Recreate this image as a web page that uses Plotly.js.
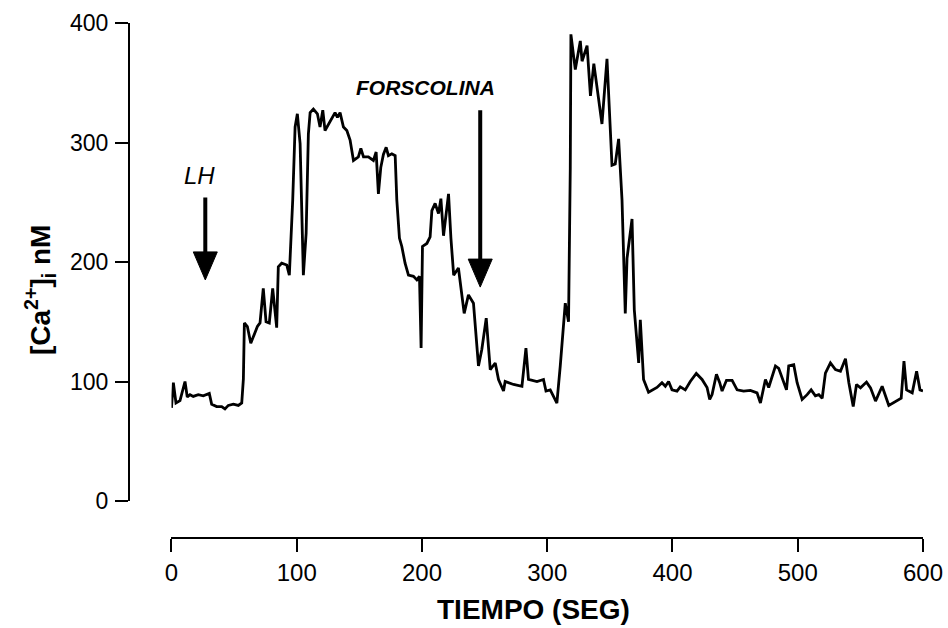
<!DOCTYPE html>
<html>
<head>
<meta charset="utf-8">
<script src="https://cdn.plot.ly/plotly-3.0.1.min.js"></script>
<style>html,body{margin:0;padding:0;background:#fff;}#chart{width:948px;height:628px;}</style>
</head>
<body>
<div id="chart"></div>
<script>
const timeSec = [0,1.5,3.6,6.8,10.8,12.6,14.8,17.4,21.4,25.4,30.2,32.1,36.1,40.1,42.7,45.4,49.4,53.4,56.1,57.4,58.2,60.6,63.3,65.9,68.6,70.7,73.3,75.5,78.1,80.8,82.7,84,85.3,88,92,94.1,96.8,98.7,100.5,102.7,105.3,107.5,109.3,110.7,113.3,116.5,118.6,120.8,122.6,125.3,128.8,130.6,132.5,134.6,137.3,140,142.6,145.3,149.2,151.2,153.3,157.2,161.2,163.4,165.2,167.1,169.2,171.4,173.2,175.9,178.6,179.9,182,183.9,186.5,189.2,193.2,195.9,198,199.3,200.4,203.9,206.5,207.9,210.5,213.2,215.1,217.2,221.2,223.1,225.3,229.1,233.7,237.1,241.1,245.1,247.8,251.3,254.5,258.5,261.1,265.1,266.4,273.1,279.8,283,285,291.8,297,299,302.4,307.7,310.4,314.4,317,318.4,318.9,322.4,326.4,327.8,331.8,334.5,337.2,343.7,347.7,351.7,354.3,357,359.7,362.3,363.7,367.7,369.5,373,374.3,376.9,380.9,387.6,391.6,394.3,396.9,399.6,403.6,406.2,410.2,414.2,419,423.6,427.6,429.7,431.6,435.1,437.7,439.6,443.1,447.6,451.6,456.8,462.2,467.5,470.2,474.2,476.8,479.5,482.2,484.8,488.3,491,492.8,496.8,499.5,503.5,507.5,510.7,514.1,516.8,519.5,522.1,526.1,530.1,534.1,538.1,540.8,544.3,546.9,550.1,554.9,558.1,562.1,567.4,572.7,578.1,582.6,584.8,586.9,591.4,594.9,597.6,600];
const caNM = [78,99,82,84,100,87,89,87.5,89,88,90,81,79,79,77,80,81,80,82,102,149,146,132,139,146,149,178,150,149,178,157,145,196,199,197.5,189,252,313,324,299,189,224,307,325,328,324,313,327,310,315,322,325,321,325,313,310,302,285,288,295,288,288,285,292,257,279,290,296,289,290.5,289,252,220,213,199,189,188,185,188,128,213,215.5,221,243,249,240.5,253,222,257,220,189,195,157,172.5,165.5,113,127,153,110,115.5,101.7,92,100,97.5,96,128,101.7,100,101.7,92,93,82,113,165.5,150,279,390.5,361,385,368,381,339,366,315.5,370,281,282,303,252,157,203,236,160,115.5,151.7,101.7,91,95,99,96,100,93,92,95.5,93,100,106.7,101.7,95,85,89,106,99,92,101,101,93,92,92.5,90.5,82,101.7,95,104,113,111,101.7,93,113,114,99,85,89,93,88,89,86,107,115.5,110,108.6,119,99,79,97.5,94.7,99.5,94.7,83.6,96,80,83.6,86,117,93,90.5,108.6,93,92];
const xTickVals = [0,100,200,300,400,500,600];
const yTickVals = [0,100,200,300,400];
const xTitle = 'TIEMPO (SEG)';
const yTitle = '[Ca<sup>2+</sup>]<sub>i</sub> nM';
const markerLabels = ['LH', 'FORSCOLINA'];
const markerTimes = [27, 246.5];

const trace = {
  x: timeSec, y: caNM, type: 'scatter', mode: 'lines',
  line: {color: '#000', width: 2.8}, hoverinfo: 'skip', showlegend: false
};

const W = 948, H = 628;
const mL = 129, mR = 24.5, mT = 23, mB = 90;
const pw = W - mL - mR, ph = H - mT - mB;
const x0px = 171.5, y0px = 501;
const FONT = 'Liberation Sans, Arial, sans-serif';

// arrows: [time, tail value, tip value]
const arrows = [
  [markerTimes[0], 254, 185],
  [markerTimes[1], 327, 179]
];
const shapes = [];
arrows.forEach(a => {
  shapes.push({type: 'line', xref: 'x', yref: 'y', x0: a[0], x1: a[0], y0: a[1], y1: a[2] + 15,
               line: {color: '#000', width: 4}});
  shapes.push({type: 'path', xref: 'x', yref: 'y', xsizemode: 'pixel', ysizemode: 'pixel',
               xanchor: a[0], yanchor: a[2], path: 'M -12 28 L 12 28 L 0 0 Z',
               fillcolor: '#000', line: {color: '#000', width: 1}});
});

const layout = {
  width: W, height: H,
  margin: {l: mL, r: mR, t: mT, b: mB, pad: 0},
  paper_bgcolor: '#fff', plot_bgcolor: '#fff',
  showlegend: false,
  font: {family: FONT, color: '#000'},
  xaxis: {
    domain: [(x0px - mL) / pw, 1], range: [0, 600],
    anchor: 'free', position: 0,
    tickvals: xTickVals, ticks: 'outside', ticklen: 13, tickwidth: 2, tickcolor: '#000',
    showline: true, linewidth: 2, linecolor: '#000',
    showgrid: false, zeroline: false,
    tickfont: {size: 24, color: '#000'}
  },
  yaxis: {
    domain: [(H - mB - y0px) / ph, 1],
    range: [0, 400],
    anchor: 'free', position: 0,
    tickvals: yTickVals, ticks: 'outside', ticklen: 13, tickwidth: 2, tickcolor: '#000',
    showline: true, linewidth: 2, linecolor: '#000',
    showgrid: false, zeroline: false,
    tickfont: {size: 23, color: '#000'},
    ticklabelstandoff: 2
  },
  shapes: shapes,
  annotations: [
    {xref: 'paper', yref: 'paper', x: (40 - mL) / pw, y: (H - mB - 290) / ph,
     text: '<b>' + yTitle + '</b>', textangle: -90, showarrow: false,
     font: {size: 28, color: '#000'}, xanchor: 'center', yanchor: 'middle'},
    {xref: 'paper', yref: 'paper', x: (534 - mL) / pw, y: (H - mB - 609) / ph,
     text: '<b>' + xTitle + '</b>', showarrow: false,
     font: {size: 28, color: '#000'}, xanchor: 'center', yanchor: 'middle'},
    {xref: 'x', yref: 'y', x: 22, y: 272, text: '<i>' + markerLabels[0] + '</i>', showarrow: false,
     font: {size: 24, color: '#000'}},
    {xref: 'x', yref: 'y', x: 202.5, y: 346, text: '<b><i>' + markerLabels[1] + '</i></b>', showarrow: false,
     font: {size: 21, color: '#000'}}
  ]
};

Plotly.newPlot('chart', [trace], layout, {displayModeBar: false, staticPlot: true});
</script>
</body>
</html>
